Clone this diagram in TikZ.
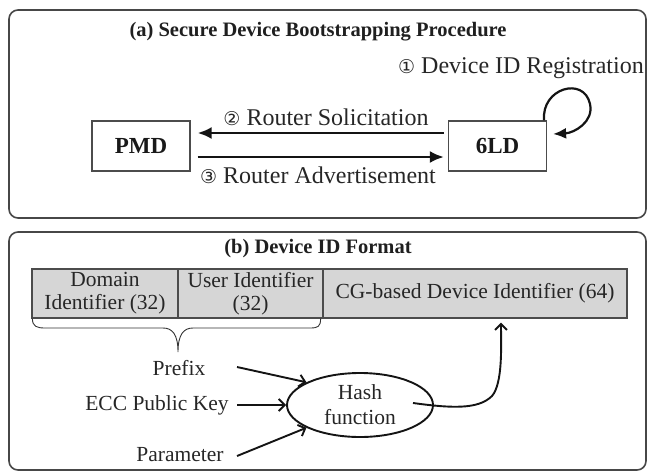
\documentclass[tikz,border=0pt]{standalone}
\usepackage{fontspec}
\setmainfont{Liberation Serif}
\newfontfamily\circfont{DejaVu Sans}
\usetikzlibrary{arrows.meta,shapes.geometric}

\newcommand{\cnum}[1]{{\circfont\fontsize{19}{20}\selectfont #1}}

\tikzset{
  panel/.style={draw=black!72, line width=1.6pt, rounded corners=9pt},
  paneltitle/.style={font=\bfseries\fontsize{20.5}{23}\selectfont, text=black!88},
  procbox/.style={draw=black!70, line width=1.2pt, minimum width=98pt,
    minimum height=50pt, inner sep=0pt, text=black!90,
    font=\bfseries\fontsize{23}{25}\selectfont},
  msglabel/.style={font=\fontsize{24}{26}\selectfont, text=black!85, inner sep=0pt},
  msg/.style={line width=2.6pt, draw=black!92,
    -{Latex[length=14pt,width=12pt]}},
  field/.style={draw=black!70, fill=black!16, line width=1.2pt,
    minimum height=49pt, inner sep=0pt, align=center, text=black!85,
    font=\fontsize{21.5}{23}\selectfont},
  inlabel/.style={font=\fontsize{21.5}{23}\selectfont, text=black!85, inner sep=0pt},
  feed/.style={line width=1.9pt, draw=black!92,
    -{Straight Barb[length=6pt,width=12pt]}},
}

\begin{document}
\begin{tikzpicture}[x=1pt,y=-1pt]
\useasboundingbox (0,0) rectangle (647,474);

% ---------- (a) bootstrapping procedure ----------
\draw[panel] (9,10) rectangle (646,218);
\node[paneltitle] (titleA) at (318,32) {(a) Secure Device Bootstrapping Procedure};

\node[procbox] (pmd) at (141,146) {PMD};
\node[procbox] (six) at (497.5,146) {6LD};

\node[msglabel, anchor=east] (reg) at (644,68) {\cnum{①} Device ID Registration};
\node[msglabel] (sol) at (326,117) {\cnum{②} Router Solicitation};
\node[msglabel] (adv) at (318,175) {\cnum{③} Router Advertisement};

\draw[msg] ([xshift=-4pt,yshift=13pt]six.west) -- ([xshift=7pt,yshift=13pt]pmd.east);
\draw[msg] ([xshift=7pt,yshift=-11pt]pmd.east) -- ([xshift=-4pt,yshift=-11pt]six.west);

% self loop on the 6LD
\draw[line width=2.2pt, draw=black!92, -{Latex[length=13pt,width=11pt]}]
  ([xshift=-3pt]six.north east) .. controls (541,88) and (584,76) .. (590,104)
  .. controls (594,122) and (574,133) .. ([xshift=6pt,yshift=12pt]six.east);

% ---------- (b) device ID format ----------
\draw[panel] (9,232) rectangle (646,470);
\node[paneltitle] (titleB) at (318,249) {(b) Device ID Format};

\node[field, minimum width=146pt] (dom) at (105,293.5) {Domain\\Identifier (32)};
\node[field, minimum width=145pt] (usr) at (250.5,293.5) {User Identifier\\(32)};
\node[field, minimum width=304pt] (cg) at (475,293.5) {CG-based Device Identifier (64)};

% brace under the prefix fields
\draw[line width=0.9pt, draw=black!80]
  ([xshift=1pt]dom.south west) .. controls +(0,8) and +(-8,0) .. (45,328)
  -- (163,328) .. controls (172,328) and (178,334) .. (178,352)
  .. controls (178,334) and (184,328) .. (193,328)
  -- (310,328) .. controls +(8,0) and +(0,8) .. ([xshift=-3pt]usr.south east);

\node[inlabel] (prefix) at (179,368) {Prefix};
\node[inlabel] (ecc) at (157,405) {ECC Public Key};
\node[inlabel] (param) at (180,455) {Parameter};

\node[ellipse, draw=black!92, line width=1.9pt, minimum width=146pt,
  minimum height=64pt, inner sep=0pt, align=center, text=black!85,
  font=\fontsize{21.5}{25}\selectfont] (hash) at (360,405) {Hash\\function};

\coordinate (in1) at (237,367);
\coordinate (in2) at (237,405);
\coordinate (in3) at (237,456);
\coordinate (hout) at (413,403);

\draw[feed] (in1) -- (hash.157);
\draw[feed] (in2) -- (hash.west);
\draw[feed] (in3) -- (hash.203);

\draw[feed] (hout) .. controls (450,408) and (478,410) .. (492,396)
  .. controls (503,383) and (501,345) .. ([xshift=26pt,yshift=-4pt]cg.south);
\end{tikzpicture}
\end{document}
